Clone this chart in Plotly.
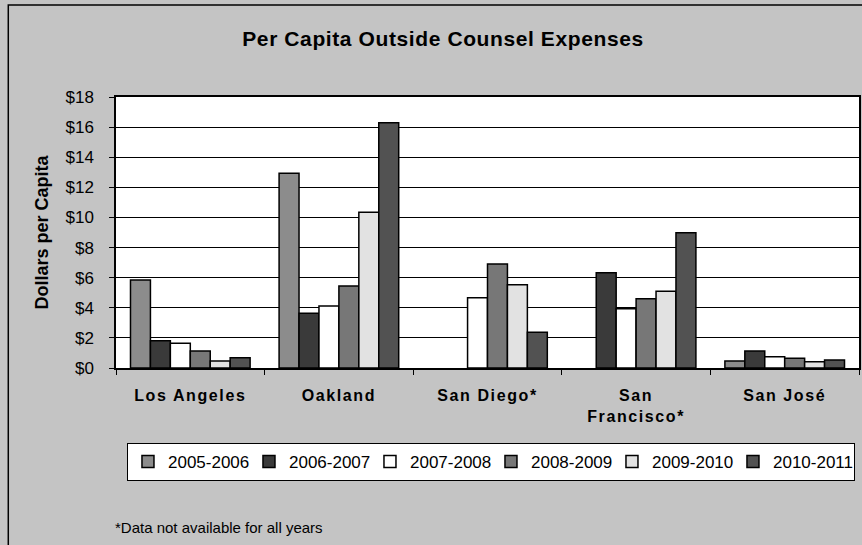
import plotly.graph_objects as go

cities = ["Los Angeles", "Oakland", "San Diego*", "San<br>Francisco*", "San José"]
years = ["2005-2006", "2006-2007", "2007-2008", "2008-2009", "2009-2010", "2010-2011"]
v_2005_2006 = [5.84, 12.93, None, None, 0.46]
v_2006_2007 = [1.81, 3.63, None, 6.33, 1.13]
v_2007_2008 = [1.64, 4.12, 4.67, 3.94, 0.75]
v_2008_2009 = [1.13, 5.45, 6.90, 4.60, 0.64]
v_2009_2010 = [0.46, 10.34, 5.53, 5.09, 0.42]
v_2010_2011 = [0.68, 16.29, 2.37, 8.98, 0.53]
series = [v_2005_2006, v_2006_2007, v_2007_2008, v_2008_2009, v_2009_2010, v_2010_2011]
colors = ["#8c8c8c", "#3a3a3a", "#ffffff", "#777777", "#e2e2e2", "#525252"]
yticks = [0, 2, 4, 6, 8, 10, 12, 14, 16, 18]

FONT = "Arial, Liberation Sans, sans-serif"

fig = go.Figure()
for name, vals, col in zip(years, series, colors):
    fig.add_trace(go.Bar(
        x=cities, y=vals, name=name,
        marker=dict(color=col, line=dict(color="#000000", width=1.5)),
    ))

W, H = 862, 545
L, R, T, B = 116, 1, 97, 177
pw, ph = W - L - R, H - T - B


def px(x):
    return (x - L) / pw


def py(y):
    return (H - B - y) / ph


def spaced(t, s):
    return '<span style="letter-spacing:%spx">%s</span>' % (s, t)


cat_text = ["<b>%s</b>" % "<br>".join(spaced(p, 1.6) for p in c.split("<br>")) for c in cities]

fig.update_layout(
    width=W, height=H,
    margin=dict(l=L, r=R, t=T, b=B),
    paper_bgcolor="#c4c4c4",
    plot_bgcolor="#ffffff",
    barmode="group",
    bargap=0.195,
    bargroupgap=0,
    font=dict(family=FONT, color="#000000"),
    title=dict(text="<b>%s</b>" % spaced("Per Capita Outside Counsel Expenses", 0.6),
               x=443 / W, xanchor="center", y=1 - 39 / H, yanchor="middle",
               font=dict(size=21, family=FONT)),
    showlegend=True,
    legend=dict(orientation="h", x=px(127), xanchor="left", y=py(443), yanchor="top",
                bgcolor="#ffffff", bordercolor="#000000", borderwidth=1,
                font=dict(size=17, family=FONT), itemwidth=30,
                entrywidth=76, entrywidthmode="pixels",
                traceorder="normal"),
    xaxis=dict(
        tickson="boundaries", ticks="outside", ticklen=5, tickcolor="#000000",
        showline=True, linecolor="#000000", linewidth=1.5, mirror=True,
        tickfont=dict(size=16, family=FONT), ticklabelstandoff=12,
        tickvals=cities, ticktext=cat_text,
    ),
    yaxis=dict(
        range=[0, 18], tickvals=yticks, ticktext=["$%d" % v for v in yticks],
        ticks="outside", ticklen=5, tickcolor="#000000",
        showgrid=True, gridcolor="#000000", gridwidth=1,
        showline=True, linecolor="#000000", linewidth=1.5, mirror=True,
        tickfont=dict(size=17, family=FONT), ticklabelstandoff=12,
        title=dict(text="<b>Dollars per Capita</b>", font=dict(size=18, family=FONT), standoff=12),
        zeroline=False,
    ),
    annotations=[dict(
        text="*Data not available for all years", xref="paper", yref="paper",
        x=px(113), y=py(527), xanchor="left", yanchor="middle", showarrow=False,
        font=dict(size=15, family=FONT),
    )],
    shapes=[dict(type="rect", xref="paper", yref="paper",
                 x0=px(8), x1=px(880), y0=py(560), y1=py(5),
                 line=dict(color="#000000", width=1.5), layer="below")],
)

fig.write_html("out.html")
